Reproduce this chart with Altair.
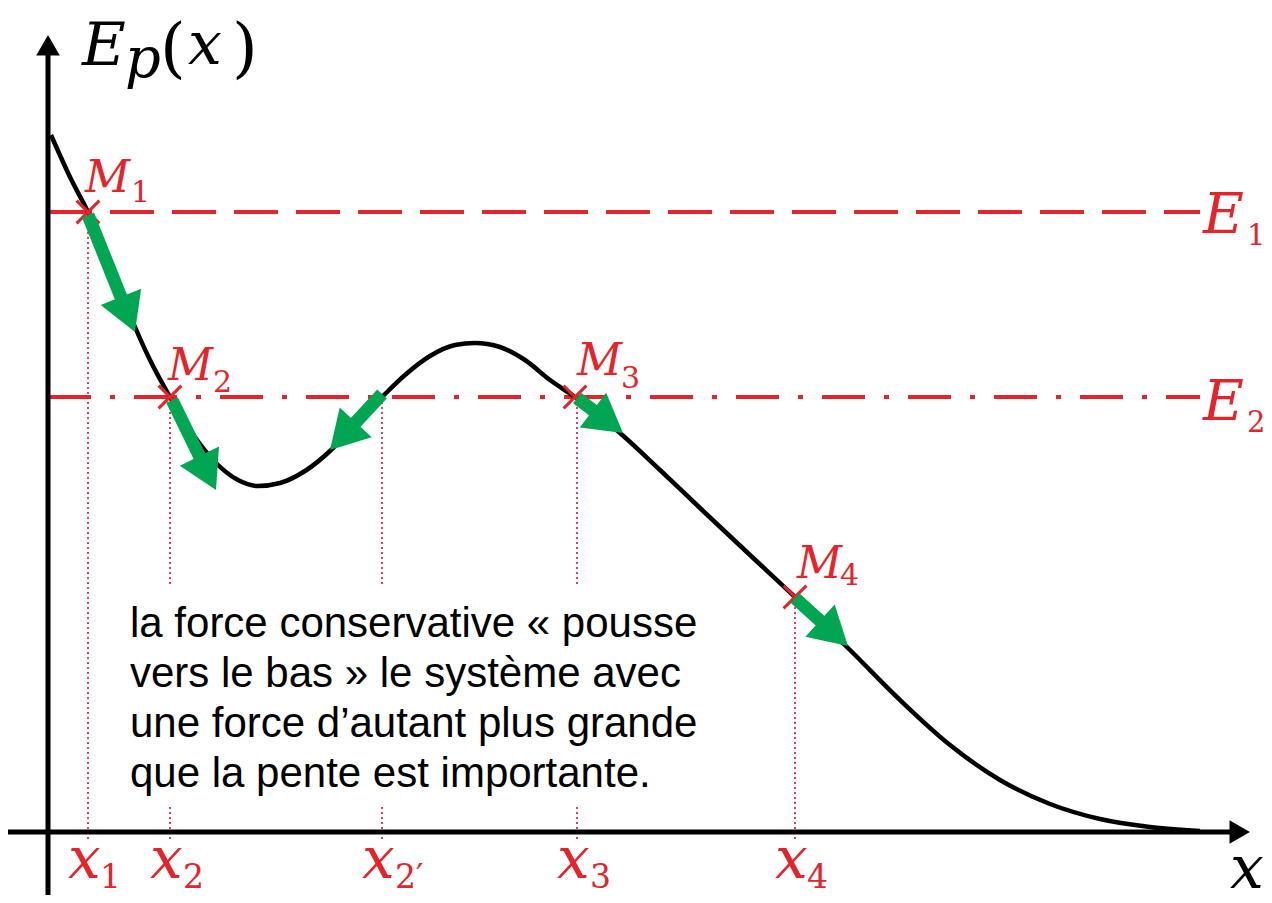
import altair as alt
import pandas as pd
import numpy as np

# ---------------- data (units: 1 unit = 100 px, origin at axes crossing) -------------
curve_x = [0.03, 0.22, 0.40, 0.62, 0.82, 1.02, 1.22, 1.42, 1.67, 1.90, 2.10, 2.32, 2.57,
           2.82, 3.07, 3.34, 3.57, 3.82, 4.07, 4.27, 4.52, 4.77, 5.02, 5.27, 5.72, 6.12,
           6.52, 7.02, 7.47, 8.02, 8.52, 9.02, 9.52, 10.02, 10.52, 11.02, 11.52]
curve_y = [6.97, 6.55, 6.20, 5.70, 5.17, 4.72, 4.35, 4.02, 3.70, 3.52, 3.46, 3.49, 3.61,
           3.81, 4.08, 4.35, 4.57, 4.76, 4.87, 4.89, 4.85, 4.72, 4.52, 4.35, 3.99, 3.62,
           3.24, 2.77, 2.35, 1.82, 1.32, 0.87, 0.52, 0.28, 0.13, 0.05, 0.01]

E1_level = 6.20
E2_level = 4.35
E_line_end = 11.52

point_names = ["M1", "M2", "M3", "M4"]
point_x = [0.40, 1.22, 5.27, 7.47]
point_y = [6.20, 4.35, 4.35, 2.35]

# dotted projection segments
proj_x = [0.40, 1.22, 1.22, 3.34, 3.34, 5.29, 5.29, 7.47]
proj_top = [6.20, 4.35, 0.25, 4.35, 0.25, 4.35, 0.25, 2.35]
proj_bot = [-0.08, 2.47, -0.08, 2.47, -0.08, 2.47, -0.08, -0.08]

# green force arrows: start -> tip
arrow_x0 = [0.40, 1.24, 3.34, 5.29, 7.47]
arrow_y0 = [6.17, 4.32, 4.38, 4.34, 2.34]
arrow_x1 = [0.87, 1.68, 2.82, 5.75, 8.00]
arrow_y1 = [5.00, 3.42, 3.82, 3.99, 1.86]

# axes (start -> tip)
axis_x0 = [0.00, -0.40]
axis_y0 = [-0.63, 0.00]
axis_x1 = [0.00, 12.02]
axis_y1 = [7.97, 0.00]

# red italic letters
red_it_text = ["M", "M", "M", "M", "x", "x", "x", "x", "x", "E", "E"]
red_it_x = [0.37, 1.20, 5.29, 7.49, 0.20, 1.02, 3.14, 5.09, 7.27, 11.55, 11.55]
red_it_y = [6.40, 4.52, 4.57, 2.54, -0.46, -0.46, -0.46, -0.46, -0.46, 5.99, 4.12]
red_it_size = [44, 44, 44, 44, 58, 58, 58, 58, 58, 56, 56]

# red upright subscripts
red_sub_text = ["1", "2", "3", "4", "1", "2", "2\u2032", "3", "4", "1", "2"]
red_sub_x = [0.83, 1.65, 5.73, 7.92, 0.52, 1.35, 3.47, 5.42, 7.59, 11.99, 11.99]
red_sub_y = [6.30, 4.40, 4.44, 2.47, -0.56, -0.56, -0.56, -0.56, -0.56, 5.87, 4.00]
red_sub_size = [30, 30, 30, 30, 33, 33, 33, 33, 33, 29, 29]

# black italic symbols: E, p, x (in Ep(x)), axis x
blk_it_text = ["E", "p", "x", "x"]
blk_it_x = [0.34, 0.77, 1.40, 11.82]
blk_it_y = [7.67, 7.55, 7.68, -0.56]
blk_it_size = [60, 56, 60, 60]

# black upright parentheses
paren_text = ["(", ")"]
paren_x = [1.12, 1.84]
paren_y = [7.62, 7.62]
paren_size = [66, 66]

# body text
body_lines = ["la force conservative \u00ab pousse",
              "vers le bas \u00bb le syst\u00e8me avec",
              "une force d\u2019autant plus grande",
              "que la pente est importante."]
body_x = [0.82, 0.82, 0.82, 0.82]
body_y = [1.95, 1.45, 0.95, 0.45]

# ---------------- scales ----------------
W, H = 1256, 887
X_DOMAIN = [-0.40, 12.16]
Y_DOMAIN = [-0.63, 8.24]
PX_PER_UNIT = 100.0

xs = alt.Scale(domain=X_DOMAIN, nice=False, zero=False)
ys = alt.Scale(domain=Y_DOMAIN, nice=False, zero=False)

RED = "#e3242b"
DOT = "#e04060"
GREEN = "#00a651"


def X(f):
    return alt.X(f"{f}:Q", scale=xs, axis=None)


def Y(f):
    return alt.Y(f"{f}:Q", scale=ys, axis=None)


def arrow_frames(x0, y0, x1, y1, head_size):
    d = pd.DataFrame(dict(x0=x0, y0=y0, x1=x1, y1=y1))
    dx = d.x1 - d.x0
    dy = d.y1 - d.y0
    L = np.hypot(dx, dy)
    ux, uy = dx / L, dy / L
    head_len = 0.866 * np.sqrt(head_size) / PX_PER_UNIT
    d["hx"] = d.x1 - ux * head_len / 2
    d["hy"] = d.y1 - uy * head_len / 2
    d["sx"] = d.x1 - ux * head_len * 0.85
    d["sy"] = d.y1 - uy * head_len * 0.85
    d["angle"] = np.degrees(np.arctan2(dx, dy)) % 360
    return d


layers = []

# dotted projections
proj = pd.DataFrame(dict(x=proj_x, y=proj_top, y2=proj_bot))
layers.append(alt.Chart(proj).mark_rule(color=DOT, strokeWidth=2, strokeDash=[2, 3]).encode(
    x=X("x"), y=Y("y"), y2="y2:Q"))

# energy levels
e1 = pd.DataFrame(dict(x=[0.0], x2=[E_line_end], y=[E1_level]))
layers.append(alt.Chart(e1).mark_rule(color=RED, strokeWidth=4, strokeDash=[44, 18]).encode(
    x=X("x"), x2="x2:Q", y=Y("y")))
e2 = pd.DataFrame(dict(x=[0.0], x2=[E_line_end], y=[E2_level]))
layers.append(alt.Chart(e2).mark_rule(color=RED, strokeWidth=4, strokeDash=[43, 19, 5, 19]).encode(
    x=X("x"), x2="x2:Q", y=Y("y")))

# axes
ax = arrow_frames(axis_x0, axis_y0, axis_x1, axis_y1, 560)
layers.append(alt.Chart(ax).mark_rule(color="black", strokeWidth=5).encode(
    x=X("x0"), y=Y("y0"), x2="sx:Q", y2="sy:Q"))
layers.append(alt.Chart(ax).mark_point(shape="triangle-up", filled=True, color="black",
                                       opacity=1, size=560).encode(
    x=X("hx"), y=Y("hy"), angle=alt.Angle("angle:Q", scale=None)))

# curve
cv = pd.DataFrame(dict(x=curve_x, y=curve_y))
layers.append(alt.Chart(cv).mark_line(color="black", strokeWidth=4.5, interpolate="monotone").encode(
    x=X("x"), y=Y("y")))

# points (crosses)
pts = pd.DataFrame(dict(name=point_names, x=point_x, y=point_y))
layers.append(alt.Chart(pts).mark_point(shape="M-1,-1L1,1M-1,1L1,-1", filled=False, color=RED,
                                        strokeWidth=3, opacity=1, size=520).encode(
    x=X("x"), y=Y("y")))

# green arrows
ar = arrow_frames(arrow_x0, arrow_y0, arrow_x1, arrow_y1, 1900)
layers.append(alt.Chart(ar).mark_rule(color=GREEN, strokeWidth=13).encode(
    x=X("x0"), y=Y("y0"), x2="sx:Q", y2="sy:Q"))
layers.append(alt.Chart(ar).mark_point(shape="triangle-up", filled=True, color=GREEN,
                                       opacity=1, size=1900).encode(
    x=X("hx"), y=Y("hy"), angle=alt.Angle("angle:Q", scale=None)))

# texts
def text_layer(texts, x, y, sizes, color, font, style="normal"):
    df = pd.DataFrame(dict(t=texts, x=x, y=y, s=sizes))
    return alt.Chart(df).mark_text(align="left", baseline="alphabetic", color=color,
                                   font=font, fontStyle=style).encode(
        x=X("x"), y=Y("y"), text="t:N", size=alt.Size("s:Q", scale=None))

layers.append(text_layer(red_it_text, red_it_x, red_it_y, red_it_size, RED, "DejaVu Serif", "italic"))
layers.append(text_layer(red_sub_text, red_sub_x, red_sub_y, red_sub_size, RED, "DejaVu Serif"))
layers.append(text_layer(blk_it_text, blk_it_x, blk_it_y, blk_it_size, "black", "DejaVu Serif", "italic"))
layers.append(text_layer(paren_text, paren_x, paren_y, paren_size, "black", "DejaVu Serif"))
layers.append(text_layer(body_lines, body_x, body_y, [42] * 4, "black", "Liberation Sans"))

chart = alt.layer(*layers).properties(
    width=W, height=H, padding=0,
    autosize=alt.AutoSizeParams(type="none"),
).configure_view(strokeWidth=0)

chart.save("out.html", embed_options={"renderer": "svg", "actions": False})
